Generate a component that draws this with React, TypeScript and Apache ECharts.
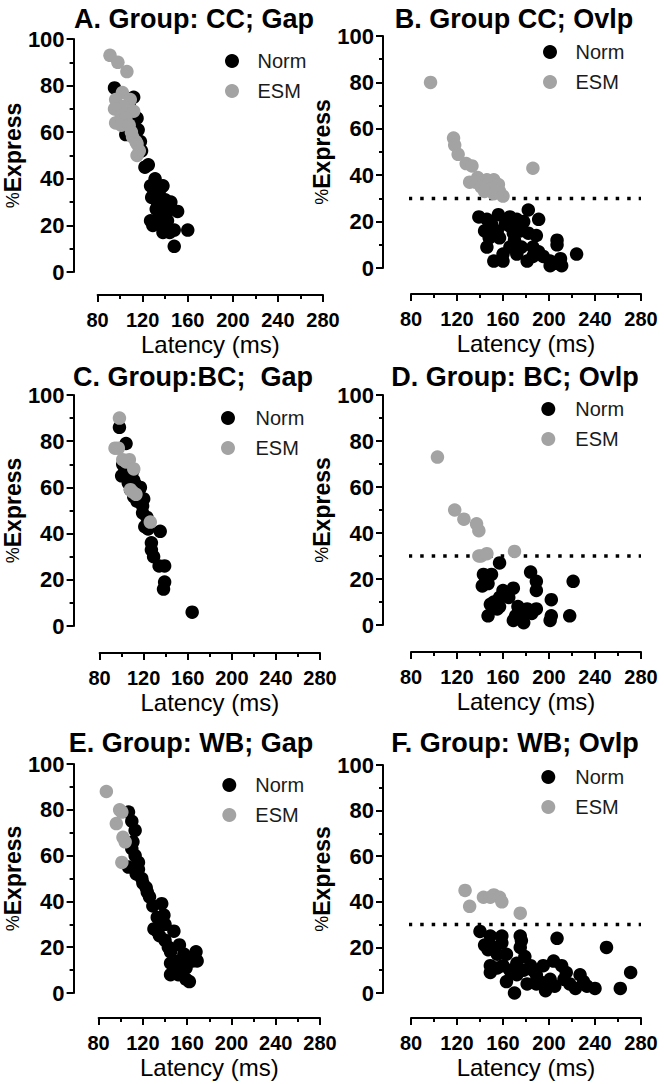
import React, { useEffect, useRef } from "react";
import * as echarts from "echarts";

// ---------- data ----------
const X_MIN = 80;
const X_MAX = 280;
const X_STEP = 40;
const Y_MIN = 0;
const Y_MAX = 100;
const Y_STEP = 20;
const THRESHOLD = 30;
const THRESHOLD_START = 68;
const LEGEND_NAMES = ["Norm", "ESM"];
const X_NAME = "Latency (ms)";

const TITLES = [
  "A. Group: CC; Gap",
  "B. Group CC; Ovlp",
  "C. Group:BC;  Gap",
  "D. Group: BC; Ovlp",
  "E. Group: WB; Gap",
  "F. Group: WB; Ovlp",
];

const normA = [[95,79],[108,72],[112,75],[104,69],[110,65],[115,66],[112,62],[116,61],[105,59],[118,56],[119,52],[122,45],[125,46],[131,40],[138,37],[127,37],[136,36],[130,35],[134,34],[140,31],[128,32],[133,30],[145,30],[135,29],[132,27],[142,26],[151,26],[135,24],[127,22],[142,22],[140,21],[137,20],[129,20],[138,17],[144,17],[148,18],[160,18],[148,11]];
const esmA = [[91,93],[98,90],[106,86],[102,77],[96,74],[109,74],[103,71],[95,70],[112,69],[101,67],[105,66],[96,64],[101,63],[108,63],[110,60],[111,58],[114,56],[115,55],[117,52],[115,50]];

const normB = [[139,22],[146,21],[150,19],[156,23],[162,19],[166,22],[172,21],[178,20],[182,25],[191,21],[144,16],[155,16],[166,18],[169,15],[175,16],[182,15],[189,14],[148,13],[157,13],[170,12],[146,9],[166,9],[176,9],[186,9],[191,7],[207,12],[207,10],[224,6],[160,6],[172,6],[195,5],[186,5],[152,3],[160,3],[181,3],[201,3],[210,4],[201,1],[205,2],[211,1]];
const esmB = [[97,80],[117,56],[118,53],[121,49],[128,45],[133,44],[186,43],[138,39],[131,37],[136,37],[146,38],[152,38],[148,37],[141,35],[156,36],[149,34],[144,33],[152,32],[157,33],[154,33],[160,31]];

const normC = [[98,86],[104,79],[101,70],[103,68],[110,67],[100,65],[111,63],[106,62],[113,61],[117,60],[116,59],[108,59],[111,56],[120,55],[114,54],[119,52],[119,49],[123,47],[121,43],[124,42],[135,41],[127,36],[127,33],[129,30],[134,26],[139,26],[139,19],[138,16],[164,6]];
const esmC = [[98,90],[94,77],[97,77],[101,72],[104,71],[107,72],[111,68],[108,59],[110,58],[113,57],[126,45]];

const normD = [[157,27],[143,22],[150,22],[145,20],[142,17],[147,18],[184,23],[189,19],[189,15],[221,19],[169,16],[160,15],[163,14],[165,12],[157,12],[152,10],[149,9],[157,8],[155,7],[147,4],[173,8],[181,7],[189,7],[185,5],[202,11],[202,4],[201,2],[218,4],[171,4],[169,2],[176,5],[178,1]];
const esmD = [[103,73],[118,50],[126,46],[137,44],[139,41],[139,30],[141,30],[146,31],[170,32]];

const normE = [[107,79],[110,75],[113,71],[111,66],[110,63],[113,60],[116,57],[107,55],[116,54],[114,52],[119,50],[120,48],[123,46],[124,44],[126,42],[129,38],[137,39],[139,34],[133,33],[136,30],[140,30],[130,28],[133,27],[148,27],[135,25],[140,23],[153,21],[143,20],[145,18],[157,17],[168,18],[158,16],[165,14],[169,14],[153,14],[145,13],[150,12],[159,11],[155,10],[145,8],[152,8],[159,6],[162,5]];
const esmE = [[87,88],[99,80],[101,79],[96,74],[102,68],[104,66],[101,57]];

const normF = [[140,27],[149,25],[159,25],[175,25],[176,23],[207,24],[159,22],[144,21],[152,20],[175,20],[250,20],[147,19],[155,17],[163,17],[179,16],[172,13],[204,14],[149,12],[160,12],[184,12],[195,12],[211,12],[155,11],[166,10],[178,10],[186,10],[149,9],[215,9],[271,9],[172,8],[189,8],[227,8],[201,6],[213,6],[163,5],[192,5],[230,5],[181,4],[189,4],[199,4],[218,4],[205,3],[233,3],[240,2],[223,2],[262,2],[197,1],[170,0]];
const esmF = [[127,45],[131,38],[143,42],[149,42],[152,43],[157,42],[159,40],[175,35]];

const NORM = [normA, normB, normC, normD, normE, normF];
const ESM = [esmA, esmB, esmC, esmD, esmE, esmF];
const HAS_THRESHOLD = [false, true, false, true, false, true];

// ---------- layout (pixels) ----------
const LAYOUT = [
  { grid: { left: 91, top: 39, width: 232, height: 233 }, yOff: 24, xOff: 23, tx: 194, ty: 19, lx: 225, ly: 51, pad: 13.5 },
  { grid: { left: 411, top: 36, width: 230, height: 232 }, yOff: 28, xOff: 26, tx: 514, ty: 19, lx: 543, ly: 42, pad: 13.5 },
  { grid: { left: 91, top: 395, width: 229, height: 231 }, yOff: 26, xOff: 27, tx: 193, ty: 377, lx: 221, ly: 408, pad: 15.5 },
  { grid: { left: 411, top: 395, width: 230, height: 230 }, yOff: 28, xOff: 27, tx: 515, ty: 377, lx: 541.3, ly: 399, pad: 15 },
  { grid: { left: 91, top: 764, width: 229, height: 229 }, yOff: 25, xOff: 25, tx: 191, ty: 743, lx: 222.3, ly: 775, pad: 14 },
  { grid: { left: 411, top: 765, width: 230, height: 228 }, yOff: 28, xOff: 25, tx: 515, ty: 743, lx: 541.3, ly: 767, pad: 15 },
];

const FONT = "Liberation Sans";
const BLACK = "#000000";
const GREY = "#a3a3a3";

function buildOption() {
  const axisCommon = {
    axisLine: { show: true, onZero: false, lineStyle: { color: BLACK, width: 2 } },
    axisTick: { show: true, length: 7, lineStyle: { color: BLACK, width: 2 } },
    minorTick: { show: true, splitNumber: 2, length: 4, lineStyle: { color: BLACK, width: 2 } },
    splitLine: { show: false },
    minorSplitLine: { show: false },
  };

  const grid = LAYOUT.map((l) => ({ ...l.grid, containLabel: false }));

  const xAxis = LAYOUT.map((l, i) => ({
    ...axisCommon,
    gridIndex: i,
    type: "value",
    min: X_MIN,
    max: X_MAX,
    interval: X_STEP,
    offset: l.xOff,
    axisLabel: { margin: 15, color: BLACK, fontFamily: FONT, fontWeight: "bold", fontSize: 20 },
    name: X_NAME,
    nameLocation: "middle",
    nameGap: 37,
    nameTextStyle: { color: BLACK, fontFamily: FONT, fontSize: 24 },
  }));

  const yAxis = LAYOUT.map((l, i) => ({
    ...axisCommon,
    gridIndex: i,
    type: "value",
    min: Y_MIN,
    max: Y_MAX,
    interval: Y_STEP,
    offset: l.yOff,
    axisLabel: { margin: 9, color: BLACK, fontFamily: FONT, fontWeight: "bold", fontSize: 22 },
    name: "{p|%}{e|Express}",
    nameLocation: "middle",
    nameGap: 37,
    nameTextStyle: {
      color: BLACK,
      rich: {
        p: { fontFamily: FONT, fontSize: 18, fontWeight: "normal", color: BLACK },
        e: { fontFamily: FONT, fontSize: 23, fontWeight: "bold", color: BLACK },
      },
    },
  }));

  const series: any[] = [];
  LAYOUT.forEach((_, i) => {
    if (HAS_THRESHOLD[i]) {
      series.push({
        type: "line",
        name: "threshold",
        xAxisIndex: i,
        yAxisIndex: i,
        data: [[THRESHOLD_START, THRESHOLD], [X_MAX, THRESHOLD]],
        symbol: "none",
        clip: false,
        silent: true,
        z: 1,
        lineStyle: { color: BLACK, width: 3.5, type: [3.5, 8] },
      });
    }
    series.push({
      type: "scatter",
      name: LEGEND_NAMES[0],
      xAxisIndex: i,
      yAxisIndex: i,
      data: NORM[i],
      symbolSize: 13.5,
      clip: false,
      z: 2,
      itemStyle: { color: BLACK, opacity: 1 },
      emphasis: { disabled: true },
    });
    series.push({
      type: "scatter",
      name: LEGEND_NAMES[1],
      xAxisIndex: i,
      yAxisIndex: i,
      data: ESM[i],
      symbolSize: 13.5,
      clip: false,
      z: 3,
      itemStyle: { color: GREY, opacity: 1 },
      emphasis: { disabled: true },
    });
  });

  const legend = LAYOUT.map((l) => ({
    data: LEGEND_NAMES,
    orient: "vertical",
    left: l.lx,
    top: l.ly,
    padding: 0,
    itemWidth: 14,
    itemHeight: 14,
    itemGap: 10,
    icon: "circle",
    selectedMode: false,
    textStyle: { fontFamily: FONT, fontSize: 20, color: "#1a1a1a", padding: [0, 0, 0, l.pad] },
  }));

  const graphic = LAYOUT.map((l, i) => ({
    type: "text",
    x: l.tx,
    y: l.ty,
    silent: true,
    style: {
      text: TITLES[i],
      fill: BLACK,
      fontFamily: FONT,
      fontSize: 27,
      fontWeight: "bold",
      align: "center",
      verticalAlign: "middle",
      textAlign: "center",
      textVerticalAlign: "middle",
    },
  }));

  return {
    animation: false,
    backgroundColor: "#ffffff",
    grid,
    xAxis,
    yAxis,
    legend,
    graphic,
    series,
  };
}

export default function App() {
  const ref = useRef<HTMLDivElement>(null);
  useEffect(() => {
    document.body.style.margin = "0";
    if (!ref.current) return;
    const chart = echarts.init(ref.current, null, { renderer: "svg" });
    chart.setOption(buildOption() as any);
    return () => chart.dispose();
  }, []);
  return <div ref={ref} style={{ width: 664, height: 1084, background: "#fff" }} />;
}
